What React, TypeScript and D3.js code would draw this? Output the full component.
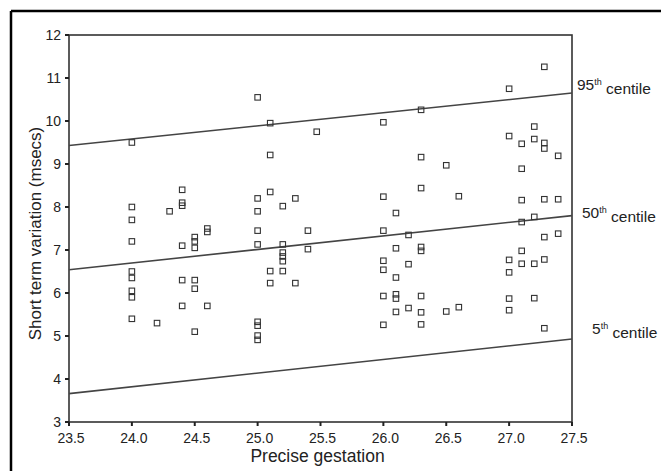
import React from "react";
import * as d3 from "d3";

const gestation = [
  24.0, 24.0, 24.0, 24.0, 24.0, 24.0, 24.0, 24.0, 24.0,
  24.2, 24.3,
  24.4, 24.4, 24.4, 24.4, 24.4, 24.4,
  24.5, 24.5, 24.5, 24.5, 24.5, 24.5,
  24.6, 24.6, 24.6,
  25.0, 25.0, 25.0, 25.0, 25.0, 25.0, 25.0, 25.0, 25.0,
  25.1, 25.1, 25.1, 25.1, 25.1,
  25.2, 25.2, 25.2, 25.2, 25.2, 25.2,
  25.3, 25.3, 25.4, 25.4, 25.47,
  26.0, 26.0, 26.0, 26.0, 26.0, 26.0, 26.0,
  26.1, 26.1, 26.1, 26.1, 26.1, 26.1,
  26.2, 26.2, 26.2,
  26.3, 26.3, 26.3, 26.3, 26.3, 26.3, 26.3, 26.3,
  26.5, 26.5, 26.6, 26.6,
  27.0, 27.0, 27.0, 27.0, 27.0, 27.0,
  27.1, 27.1, 27.1, 27.1, 27.1, 27.1,
  27.2, 27.2, 27.2, 27.2, 27.2,
  27.28, 27.28, 27.28, 27.28, 27.28, 27.28, 27.28,
  27.39, 27.39, 27.39,
];

const shortTermVariation = [
  9.5, 8.0, 7.7, 7.2, 6.5, 6.35, 6.05, 5.9, 5.4,
  5.3, 7.9,
  8.4, 8.1, 8.03, 7.1, 6.3, 5.7,
  7.3, 7.2, 7.05, 6.3, 6.1, 5.1,
  7.5, 7.42, 5.7,
  10.55, 8.2, 7.9, 7.45, 7.13, 5.33, 5.24, 5.01, 4.91,
  9.95, 9.21, 8.35, 6.51, 6.23,
  8.02, 7.13, 6.94, 6.85, 6.74, 6.51,
  8.2, 6.23, 7.45, 7.02, 9.75,
  9.97, 8.24, 7.45, 6.75, 6.54, 5.93, 5.26,
  7.86, 7.04, 6.36, 5.97, 5.87, 5.56,
  7.35, 6.67, 5.65,
  10.26, 9.16, 8.44, 7.07, 6.98, 5.93, 5.55, 5.27,
  8.97, 5.57, 8.25, 5.67,
  10.75, 9.65, 6.77, 6.48, 5.87, 5.6,
  9.47, 8.89, 8.16, 7.65, 6.98, 6.68,
  9.87, 9.58, 7.77, 6.68, 5.88,
  11.26, 9.49, 9.36, 8.18, 7.3, 6.78, 5.18,
  9.19, 8.18, 7.38,
];

const centileNames = ["95", "50", "5"];
const centileStart = [9.43, 6.54, 3.66];
const centileEnd = [10.65, 7.8, 4.93];

const xTicks = [23.5, 24.0, 24.5, 25.0, 25.5, 26.0, 26.5, 27.0, 27.5];
const yTicks = [3, 4, 5, 6, 7, 8, 9, 10, 11, 12];

const W = 661;
const H = 471;
const left = 69;
const right = 572;
const top = 35;
const bottom = 422;

export default function App() {
  const x = d3.scaleLinear().domain([23.5, 27.5]).range([left, right]);
  const y = d3.scaleLinear().domain([3, 12]).range([bottom, top]);
  const line = d3
    .line<[number, number]>()
    .x((d) => x(d[0]))
    .y((d) => y(d[1]));

  const font = "'Liberation Sans', Arial, sans-serif";
  const ink = "#222";
  const labelDy = [-8, -3, -10];
  const labelX = [577, 582, 592];

  return (
    <svg
      width={W}
      height={H}
      style={{ position: "absolute", left: 0, top: 0, background: "#fff" }}
      fontFamily={font}
    >
      <rect x={0} y={0} width={W} height={H} fill="#fff" />
      <line x1={11} y1={11} x2={W} y2={11} stroke="#000" strokeWidth={2.5} />
      <line x1={11} y1={11} x2={11} y2={H} stroke="#000" strokeWidth={2.5} />

      <rect
        x={left}
        y={top}
        width={right - left}
        height={bottom - top}
        fill="none"
        stroke="#333"
        strokeWidth={1.6}
      />

      {yTicks.map((t) => (
        <g key={"y" + t}>
          <line x1={left - 4} x2={left} y1={y(t)} y2={y(t)} stroke={ink} strokeWidth={2} />
          <text x={left - 8} y={y(t)} dy="0.35em" textAnchor="end" fontSize={14} fill={ink}>
            {t}
          </text>
        </g>
      ))}

      {xTicks.map((t) => (
        <g key={"x" + t}>
          <line x1={x(t)} x2={x(t)} y1={bottom} y2={bottom + 4} stroke={ink} strokeWidth={2} />
          <text x={x(t) + 2} y={bottom + 21} textAnchor="middle" fontSize={14} fill={ink}>
            {t.toFixed(1)}
          </text>
        </g>
      ))}

      {centileNames.map((n, i) => (
        <g key={"c" + n}>
          <path
            d={line([
              [23.5, centileStart[i]],
              [27.5, centileEnd[i]],
            ]) as string}
            fill="none"
            stroke="#444"
            strokeWidth={1.6}
          />
          <text x={labelX[i]} y={y(centileEnd[i]) + labelDy[i]} dy="0.35em" fontSize={15.5} fill={ink}>
            {n}
            <tspan fontSize={9} dy="-0.6em">th</tspan>
            <tspan dy="0.6em" fontSize={15.5}> centile</tspan>
          </text>
        </g>
      ))}

      {gestation.map((g, i) => (
        <rect
          key={"p" + i}
          x={x(g) - 2.75}
          y={y(shortTermVariation[i]) - 2.75}
          width={5.5}
          height={5.5}
          fill="none"
          stroke="#333"
          strokeWidth={1.1}
        />
      ))}

      <text
        transform={`translate(35, ${(top + bottom) / 2 + 5}) rotate(-90)`}
        textAnchor="middle"
        dy="0.35em"
        fontSize={17}
        fill={ink}
      >
        Short term variation (msecs)
      </text>
      <text x={(left + right) / 2 - 3} y={462} textAnchor="middle" fontSize={17.5} fill={ink}>
        Precise gestation
      </text>
    </svg>
  );
}
